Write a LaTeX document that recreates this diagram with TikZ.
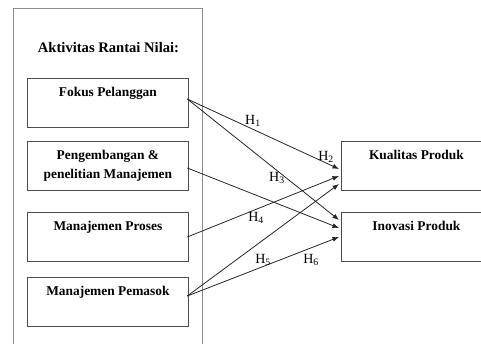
\documentclass[tikz,border=0pt]{standalone}
\usepackage{fontspec}
\setmainfont{Liberation Serif}
\usetikzlibrary{calc,arrows.meta}
\tikzstyle{kotak}=[draw=black!70,line width=0.8pt,minimum height=49pt,inner sep=0pt,anchor=north west]
\tikzstyle{teks}=[font=\fontsize{13.4}{19}\selectfont\bfseries,align=center,anchor=north,inner sep=0pt]
\tikzstyle{panah}=[-{Latex[length=6.5pt,width=5pt]},draw=black!85,line width=0.8pt]
\tikzstyle{hipo}=[font=\fontsize{14}{16}\selectfont,inner sep=0pt]
\newcommand{\drawkotak}[5]{
% name, left, top, width, text
\node[kotak,minimum width=#4pt] (#1) at (#2,#3) {};
\node[teks] (#1-teks) at ($(#1.north)+(0,9)$) {#5};
}

\begin{document}
\begin{tikzpicture}[x=1pt,y=-1pt]
	\clip (0,0) rectangle (481,344);
	% kotak luar
	\node[draw=black!45,line width=1pt,minimum width=189pt,minimum height=352pt,anchor=north west] (luar) at (13,8) {};
	\node[font=\fontsize{14.6}{17}\selectfont\bfseries] (aktivitas) at (108.5,48) {Aktivitas Rantai Nilai:};
	\drawkotak{fokus}{27}{78}{161}{Fokus Pelanggan}
	\drawkotak{pengembangan}{27}{141}{161}{Pengembangan \&\\penelitian Manajemen}
	\drawkotak{proses}{27}{212}{161}{Manajemen Proses}
	\drawkotak{pemasok}{27}{277}{161}{Manajemen Pemasok}
	\drawkotak{kualitas}{341}{141}{150}{Kualitas Produk}
	\drawkotak{inovasi}{341}{212}{150}{Inovasi Produk}
	% titik awal dan akhir panah
	\coordinate (f) at ($(fokus.north east)+(-1.5,21)$);
	\coordinate (p) at ($(pengembangan.north east)+(-1.5,27)$);
	\coordinate (m) at ($(proses.north east)+(-1.5,25)$);
	\coordinate (s) at ($(pemasok.north east)+(-1.5,19)$);
	\coordinate (k1) at ($(kualitas.north west)+(-2,28)$);
	\coordinate (k2) at ($(kualitas.north west)+(-2,35)$);
	\coordinate (k3) at ($(kualitas.north west)+(-2,43)$);
	\coordinate (i1) at ($(inovasi.north west)+(-2,8)$);
	\coordinate (i2) at ($(inovasi.north west)+(-2,16)$);
	\coordinate (i3) at ($(inovasi.north west)+(-2,25)$);
	\draw[panah] (f) -- (k1); %H1, H2
	\draw[panah] (f) -- (i1); %H3
	\draw[panah] (p) -- (i2);
	\draw[panah] (m) -- (k2); %H4
	\draw[panah] (s) -- (k3);
	\draw[panah] (s) -- (i3); %H5, H6
	\node[hipo] (h1) at (253,121) {H\textsubscript{1}};
	\node[hipo] (h2) at (326,157) {H\textsubscript{2}};
	\node[hipo] (h3) at (277,178) {H\textsubscript{3}};
	\node[hipo] (h4) at (256,218) {H\textsubscript{4}};
	\node[hipo] (h5) at (263,260) {H\textsubscript{5}};
	\node[hipo] (h6) at (311,260) {H\textsubscript{6}};
\end{tikzpicture}
\end{document}
